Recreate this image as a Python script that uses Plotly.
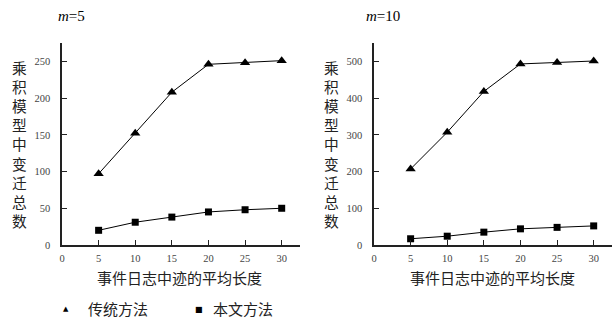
import plotly.graph_objects as go

# Data
lengths = [5, 10, 15, 20, 25, 30]
trad_m5 = [97, 152, 208, 246, 248, 251]
ours_m5 = [20, 31, 38, 45, 48, 50]
trad_m10 = [207, 307, 418, 493, 497, 501]
ours_m10 = [17, 24, 35, 44, 48, 52]

name_trad = "传统方法"
name_ours = "本文方法"
ytitle = "乘积模型中变迁总数"
xtitle = "事件日志中迹的平均长度"

W, H = 616, 320
serif = "Liberation Serif"
cjk = "Noto Sans CJK SC"

fig = go.Figure()

def add(x, y, sym, size, xa, ya, name):
    fig.add_trace(go.Scatter(x=x, y=y, mode="lines+markers", xaxis=xa, yaxis=ya,
                             name=name,
                             line=dict(color="black", width=1),
                             marker=dict(symbol=sym, size=size, color="black"),
                             showlegend=False))

add(lengths, trad_m5, "triangle-up", 9, "x", "y", name_trad)
add(lengths, ours_m5, "square", 7, "x", "y", name_ours)
add(lengths, trad_m10, "triangle-up", 9, "x2", "y2", name_trad)
add(lengths, ours_m10, "square", 7, "x2", "y2", name_ours)

def px(v):
    return v / W

def py(v):
    return 1 - v / H

axcommon = dict(showline=True, linecolor="#222", linewidth=1.5, ticks="inside",
                ticklen=5, tickcolor="#222", showgrid=False, zeroline=False,
                automargin=False,
                tickfont=dict(family=serif, size=10.5, color="#444"))

fig.update_layout(
    width=W, height=H, margin=dict(l=0, r=0, t=0, b=0),
    plot_bgcolor="white", paper_bgcolor="white",
    showlegend=False,
    xaxis=dict(domain=[px(62), px(300)], range=[0, 32.5], dtick=5, anchor="y",
               ticklabelstandoff=3, **axcommon),
    yaxis=dict(domain=[py(245), py(43)], range=[0, 275], dtick=50, anchor="x",
               ticklabelstandoff=8, **axcommon),
    xaxis2=dict(domain=[px(374), px(612)], range=[0, 32.5], dtick=5, anchor="y2",
                ticklabelstandoff=3, **axcommon),
    yaxis2=dict(domain=[py(245), py(43)], range=[0, 550], dtick=100, anchor="x2",
                ticklabelstandoff=8, **axcommon),
)

vt = "<br>".join(list(ytitle))
annots = []
def ann(x, y, text, font, size, color="#222", xanchor="center"):
    annots.append(dict(x=px(x), y=py(y), xref="paper", yref="paper", text=text,
                       xanchor=xanchor, yanchor="middle", showarrow=False,
                       font=dict(family=font, size=size, color=color)))

ann(20, 144, vt, cjk, 14.7)
ann(331, 144, vt, cjk, 14.7)
ann(179, 277, xtitle, cjk, 15)
ann(492, 277, xtitle, cjk, 15)
ann(71, 16, "<i>m</i>=5", serif, 15, "black")
ann(383, 16, "<i>m</i>=10", serif, 15, "black")
# legend
ann(66, 309, "▲", "DejaVu Sans", 7, "black")
ann(86, 308, name_trad, cjk, 15, "#222", "left")
ann(199, 309, "■", "DejaVu Sans", 8, "black")
ann(211, 308, name_ours, cjk, 15, "#222", "left")
fig.update_layout(annotations=annots)

fig.write_html("out.html", config={"displayModeBar": False},
               post_script="document.body.style.margin='0';")
